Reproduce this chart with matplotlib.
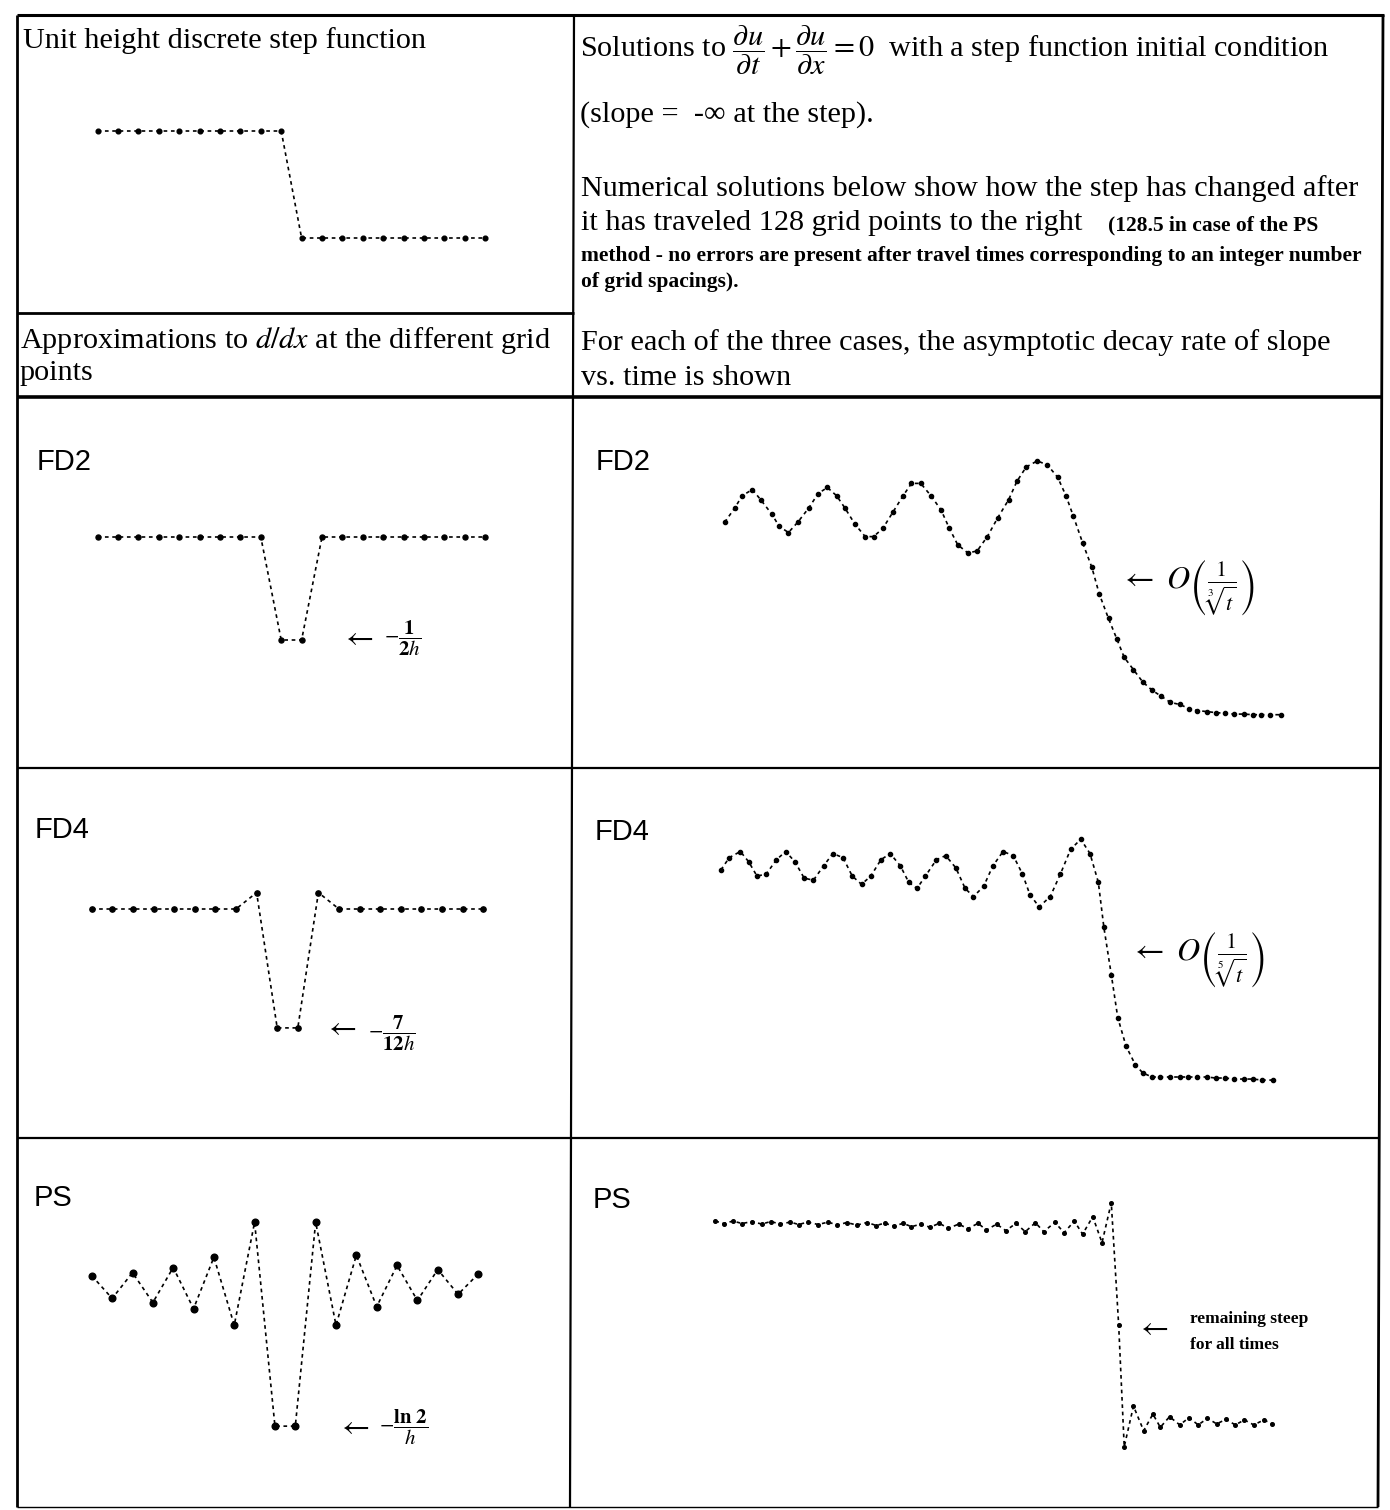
import matplotlib
matplotlib.use('Agg')
import matplotlib.pyplot as plt

plt.rcParams['font.family'] = ['Liberation Serif', 'DejaVu Serif']
plt.rcParams['mathtext.fontset'] = 'stix'

W, H = 1390, 1510

# ---- data ----
# left column: values at 20 grid points
step_vals = [1, 1, 1, 1, 1, 1, 1, 1, 1, 1, 0, 0, 0, 0, 0, 0, 0, 0, 0, 0]
fd2_left = [0, 0, 0, 0, 0, 0, 0, 0, 0, -0.5, -0.5, 0, 0, 0, 0, 0, 0, 0, 0, 0]
fd4_left = [0, 0, 0, 0, 0, 0, 0, 0, 0.08, -0.58, -0.58, 0.08, 0, 0, 0, 0, 0, 0, 0, 0]
ps_left = [0.04, -0.07, 0.055, -0.09, 0.08, -0.12, 0.13, -0.2, 0.3, -0.69,
           -0.69, 0.3, -0.2, 0.14, -0.11, 0.09, -0.08, 0.07, -0.05, 0.05]
grid_idx = list(range(20))

# right column: solution after travelling 128 grid points (x in grid units)
fd2_x = [0.5, 1.6, 2.4, 3.5, 4.4, 5.6, 6.4, 7.4, 8.4, 9.6,
         10.6, 11.6, 12.6, 13.5, 14.6, 15.7, 16.6, 17.6, 18.7, 19.8,
         20.7, 21.7, 22.8, 23.9, 24.8, 25.7, 26.8, 27.8, 28.9, 30.0,
         31.2, 32.1, 33.1, 34.3, 35.4, 36.5, 37.4, 38.2, 39.2, 40.2,
         41.0, 42.0, 42.9, 43.7, 44.7, 45.7, 46.7, 47.7, 48.7, 49.7,
         50.7, 51.6, 52.7, 53.6, 54.6, 55.6, 56.6, 57.6, 58.5, 59.5, 60.6]
fd2_u = [0.94, 1.01, 1.07, 1.10, 1.05, 0.98, 0.92, 0.89, 0.94, 1.01,
         1.08, 1.11, 1.07, 1.01, 0.93, 0.87, 0.87, 0.91, 0.99, 1.07,
         1.13, 1.13, 1.07, 1.00, 0.91, 0.83, 0.79, 0.80, 0.87, 0.96,
         1.05, 1.14, 1.21, 1.24, 1.22, 1.16, 1.07, 0.97, 0.84, 0.72,
         0.59, 0.47, 0.37, 0.28, 0.22, 0.16, 0.12, 0.09, 0.06, 0.05,
         0.03, 0.02, 0.015, 0.01, 0.007, 0.003, 0.003, 0.0, 0.0, 0.0, 0.0]

fd4_x = [0.1, 1.0, 2.2, 3.1, 4.0, 5.0, 6.1, 7.1, 8.1, 9.1,
         10.1, 11.2, 12.2, 13.3, 14.3, 15.3, 16.3, 17.4, 18.4, 19.5,
         20.4, 21.3, 22.2, 23.4, 24.4, 25.5, 26.5, 27.4, 28.5, 29.5,
         30.6, 31.7, 32.7, 33.5, 34.5, 35.7, 36.8, 37.9, 39.0, 40.0,
         40.9, 41.5, 42.3, 43.0, 43.9, 44.9, 45.7, 46.7, 47.6, 48.7,
         49.7, 50.6, 51.6, 52.6, 53.6, 54.6, 55.6, 56.6, 57.6, 58.6, 59.8]
fd4_u = [1.01, 1.07, 1.10, 1.05, 0.98, 0.99, 1.06, 1.10, 1.05, 0.97,
         0.96, 1.03, 1.09, 1.07, 0.98, 0.94, 0.98, 1.06, 1.09, 1.03,
         0.95, 0.92, 0.98, 1.06, 1.08, 1.02, 0.92, 0.88, 0.93, 1.03,
         1.10, 1.08, 0.99, 0.89, 0.83, 0.88, 0.99, 1.11, 1.16, 1.09,
         0.95, 0.73, 0.50, 0.29, 0.15, 0.06, 0.02, 0.0, 0.0, 0.0,
         0.0, 0.0, 0.0, 0.0, -0.005, -0.005, -0.01, -0.01, -0.01, -0.015, -0.015]

ps_x = [-0.5, 0.4, 1.4, 2.4, 3.5, 4.5, 5.5, 6.5, 7.6, 8.5,
        9.5, 10.6, 11.7, 12.7, 13.7, 14.8, 15.9, 16.9, 17.8, 18.8,
        19.8, 20.7, 21.7, 22.7, 23.7, 24.7, 25.8, 26.8, 27.9, 28.8,
        29.9, 30.9, 32.0, 33.0, 34.1, 35.0, 36.2, 37.2, 38.3, 39.2,
        40.3, 41.3, 42.3, 43.1, 43.7, 44.7, 45.8, 46.8, 47.6, 48.6,
        49.7, 50.7, 51.7, 52.7, 53.7, 54.7, 55.7, 56.7, 57.7, 58.8, 59.7]
ps_u = [1.002, 0.990, 1.002, 0.990, 1.000, 0.987, 1.000, 0.987, 0.997, 0.985,
        0.997, 0.985, 0.997, 0.982, 0.995, 0.982, 0.995, 0.980, 0.992, 0.977,
        0.991, 0.974, 0.987, 0.971, 0.991, 0.966, 0.987, 0.964, 0.991, 0.957,
        0.987, 0.954, 0.991, 0.949, 0.994, 0.949, 0.996, 0.944, 1.002, 0.937,
        1.024, 0.894, 1.094, 0.482, -0.126, 0.077, -0.046, 0.037, -0.029, 0.024,
        -0.017, 0.019, -0.017, 0.016, -0.012, 0.011, -0.017, 0.008, -0.017, 0.008, -0.012]

fig = plt.figure(figsize=(W / 100, H / 100), dpi=100)
bg = fig.add_axes([0, 0, 1, 1])
bg.set_xlim(0, W)
bg.set_ylim(H, 0)
bg.axis('off')

# table rules
rules = [((17, 15), (1384, 15), 2.2), ((17, 15), (17, 1507), 2.0),
         ((1383, 15), (1378, 1507), 2.0), ((574, 15), (570, 1507), 1.6),
         ((17, 313), (574, 313), 2.0), ((17, 397), (1383, 397), 2.6),
         ((17, 768), (1381, 768), 1.6), ((17, 1138), (1379, 1138), 1.6),
         ((17, 1507), (1378, 1507), 1.0)]
for (x1, y1), (x2, y2), lw in rules:
    bg.plot([x1, x2], [y1, y2], color='black', lw=lw, solid_capstyle='butt')


def panel(rect, xs, ys, x0, dx, y0, dy, ms):
    l, t, r, b = rect
    ax = fig.add_axes([l / W, 1 - b / H, (r - l) / W, (b - t) / H])
    ax.set_xlim((l - x0) / dx, (r - x0) / dx)
    ax.set_ylim((y0 - b) / dy, (y0 - t) / dy)
    ax.plot(xs, ys, color='black', lw=1.2, ls=(0, (2.2, 2.2)),
            marker='o', ms=ms, mfc='black', mec='black')
    ax.axis('off')
    ax.patch.set_alpha(0)


panel((20, 20, 570, 310), grid_idx, step_vals, 97.6, 20.4, 238, 107, 3.4)
panel((20, 400, 570, 765), grid_idx, fd2_left, 97.6, 20.4, 537, 206, 3.6)
panel((20, 770, 570, 1135), grid_idx, fd4_left, 91.8, 20.6, 909, 205, 3.8)
panel((20, 1140, 570, 1505), grid_idx, ps_left, 91.8, 20.35, 1284, 206, 4.8)
panel((576, 400, 1378, 765), fd2_x, fd2_u, 720, 9.25, 714.7, 204.7, 3.0)
panel((576, 770, 1378, 1135), fd4_x, fd4_u, 720, 9.25, 1077, 205, 3.0)
panel((576, 1140, 1378, 1505), ps_x, ps_u, 720, 9.25, 1421.5, 200, 2.6)

body = 21.8
small = 15.5
bg.text(23, 48, 'Unit height discrete step function', fontsize=body, va='baseline')
bg.text(20, 348, r'Approximations to $d/dx$ at the different grid', fontsize=body, va='baseline')
bg.text(20, 380, 'points', fontsize=body, va='baseline')

bg.text(580, 57, r'Solutions to $\dfrac{\partial u}{\partial t}+\dfrac{\partial u}{\partial x}=0$  with a step function initial condition',
        fontsize=body, va='baseline')
bg.text(580, 122, '(slope =  -\u221e at the step).', fontsize=body, va='baseline')
bg.text(581, 196, 'Numerical solutions below show how the step has changed after', fontsize=body, va='baseline')
bg.text(581, 230, 'it has traveled 128 grid points to the right', fontsize=body, va='baseline')
bg.text(1108, 230, '(128.5 in case of the PS', fontsize=small, fontweight='bold', va='baseline')
bg.text(581, 261, 'method - no errors are present after travel times corresponding to an integer number',
        fontsize=small, fontweight='bold', va='baseline')
bg.text(581, 287, 'of grid spacings).', fontsize=small, fontweight='bold', va='baseline')
bg.text(581, 350, 'For each of the three cases, the asymptotic decay rate of slope', fontsize=body, va='baseline')
bg.text(581, 385, 'vs. time is shown', fontsize=body, va='baseline')

sans = ['Liberation Sans', 'DejaVu Sans']
for x, y, s in [(37, 470, 'FD2'), (596, 470, 'FD2'), (35, 838, 'FD4'),
                (595, 840, 'FD4'), (34, 1206, 'PS'), (593, 1208, 'PS')]:
    bg.text(x, y, s, fontsize=21, family=sans, va='baseline')

# annotations
for x, y in [(341, 638), (324, 1028), (337, 1427), (1136, 1328)]:
    bg.text(x, y, r'$\leftarrow$', fontsize=22, va='center')
bg.text(384, 638, r'$-\dfrac{\mathbf{1}}{\mathbf{2}h}$', fontsize=15, va='center')
bg.text(368, 1033, r'$-\dfrac{\mathbf{7}}{\mathbf{12}h}$', fontsize=15, va='center')
bg.text(379, 1427, r'$-\dfrac{\mathbf{ln\ 2}}{h}$', fontsize=15, va='center')
bg.text(1120, 588, r'$\leftarrow\ O\left(\frac{1}{\sqrt[3]{t}}\right)$', fontsize=23, va='center')
bg.text(1130, 960, r'$\leftarrow\ O\left(\frac{1}{\sqrt[5]{t}}\right)$', fontsize=23, va='center')
bg.text(1190, 1323, 'remaining steep', fontsize=12.5, fontweight='bold', va='baseline')
bg.text(1190, 1349, 'for all times', fontsize=12.5, fontweight='bold', va='baseline')

fig.savefig('out.png', dpi=100, facecolor='white')
